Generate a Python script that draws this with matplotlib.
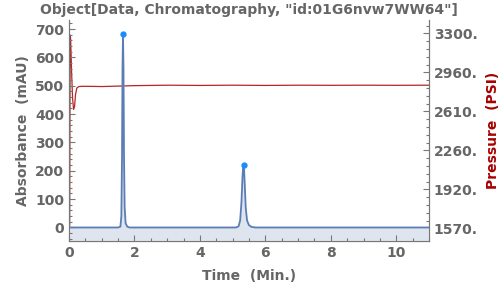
import matplotlib.pyplot as plt
from matplotlib.ticker import AutoMinorLocator, MultipleLocator

# absorbance trace (min, mAU)
time = [0.0, 1.50, 1.57, 1.60, 1.62, 1.635, 1.65, 1.665, 1.68, 1.70, 1.73, 1.78, 1.85,
        5.10, 5.18, 5.23, 5.27, 5.30, 5.32, 5.335, 5.35, 5.37, 5.40, 5.44, 5.50, 5.58, 5.70, 11.0]
absorb = [0, 0, 3, 40, 250, 560, 683, 560, 260, 70, 15, 3, 0,
          0, 4, 25, 90, 175, 215, 222, 205, 150, 70, 25, 8, 2, 0, 0]

peak_t = [1.65, 5.335]
peak_a = [683, 222]

# pressure trace (min, PSI)
p_time = [0.0, 0.02, 0.035, 0.05, 0.08, 0.11, 0.14, 0.17, 0.20, 0.24, 0.30, 0.40, 0.6,
          1.0, 1.5, 2.0, 2.5, 3.0, 4.0, 5.0, 6.0, 7.0, 8.0, 9.0, 10.0, 11.0]
pressure = [1560, 1600, 3285, 3250, 2950, 2720, 2625, 2650, 2760, 2815, 2828, 2830, 2830,
            2828, 2832, 2836, 2838, 2840, 2838, 2840, 2838, 2840, 2839, 2840, 2839, 2840]

p_ticks = [1570, 1916, 2262, 2608, 2954, 3300]
p_labels = ['1570.', '1920.', '2260.', '2610.', '2960.', '3300.']

gray = '#666666'
red = '#a80000'

fig = plt.figure(figsize=(5, 2.86), dpi=100)
ax = fig.add_axes([0.138, 0.158, 0.72, 0.772])
ax2 = ax.twinx()
ax.set_zorder(2)
ax.patch.set_visible(False)

ax.fill_between(time, absorb, -47, color='#dfe5ef', lw=0)
ax.plot(time, absorb, color='#5b7db5', lw=1.3)
ax.plot(peak_t, peak_a, 'o', color='#1a8cff', ms=3.5)

ax2.plot(p_time, pressure, color=red, lw=0.9, alpha=0.85)

ax.set_xlim(0, 11)
ax.set_ylim(-47, 732)
ax2.set_ylim(1460, 3418)
ax.xaxis.set_major_locator(MultipleLocator(2))
ax.xaxis.set_minor_locator(MultipleLocator(0.5))
ax.yaxis.set_major_locator(MultipleLocator(100))
ax.yaxis.set_minor_locator(MultipleLocator(20))
ax2.set_yticks(p_ticks)
ax2.set_yticklabels(p_labels)
ax2.yaxis.set_minor_locator(AutoMinorLocator(5))

for a in (ax, ax2):
    a.spines['top'].set_visible(False)
    for s in a.spines.values():
        s.set_color('#777777')
    a.tick_params(which='both', direction='in', colors='#777777', labelcolor=gray,
                  labelsize=10, width=0.8)
    a.tick_params(which='major', length=4)
    a.tick_params(which='minor', length=2.5)
    for lab in a.get_xticklabels() + a.get_yticklabels():
        lab.set_fontweight('bold')

ax.set_xlabel('Time  (Min.)', color=gray, fontsize=10, fontweight='bold', labelpad=7)
ax.set_ylabel('Absorbance  (mAU)', color=gray, fontsize=10, fontweight='bold')
ax2.set_ylabel('Pressure  (PSI)', color=red, fontsize=10, fontweight='bold', labelpad=6)
ax.set_title('Object[Data, Chromatography, "id:01G6nvw7WW64"]', color=gray,
             fontsize=10, fontweight='bold', pad=4)

fig.savefig('out.png', dpi=100)
